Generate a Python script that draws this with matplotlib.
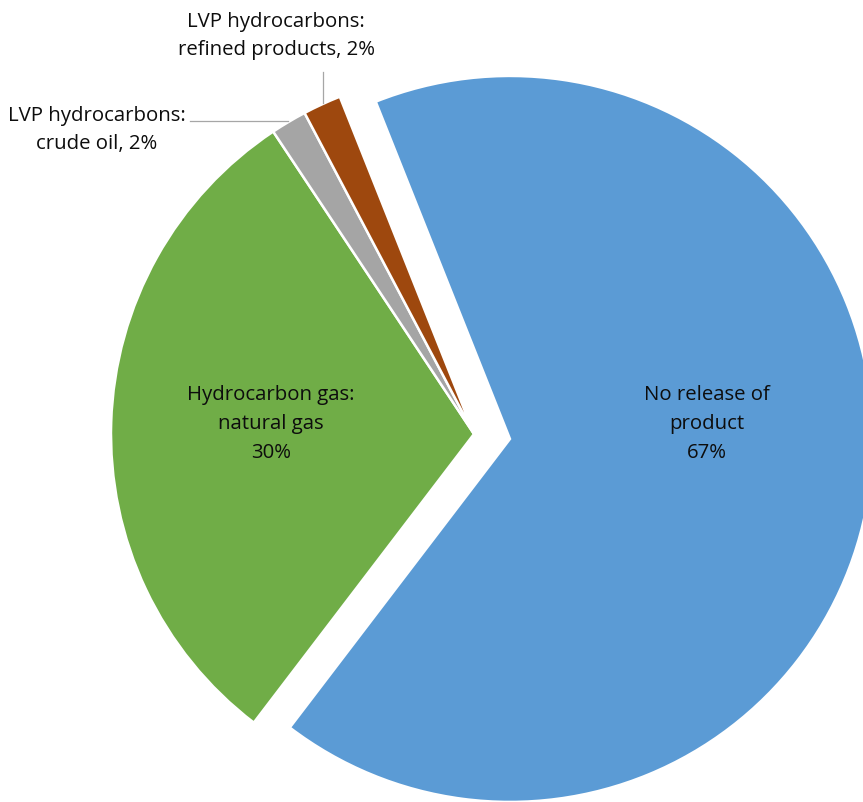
import matplotlib
matplotlib.use('Agg')
import matplotlib.pyplot as plt

labels = ['No release of\nproduct\n67%', 'Hydrocarbon gas:\nnatural gas\n30%',
          'LVP hydrocarbons:\ncrude oil, 2%', 'LVP hydrocarbons:\nrefined products, 2%']
values = [66.4, 30.3, 1.6, 1.7]
colors = ['#5B9BD5', '#70AD47', '#A5A5A5', '#9E480E']
explode = [0.1, 0, 0, 0]

plt.rcParams['font.family'] = ['Open Sans', 'DejaVu Sans']

W, H = 863, 802
cx, cy, R = 474, 434, 363

def p2d(px, py):
    return (px - cx) / R, (cy - py) / R

fig = plt.figure(figsize=(W / 100, H / 100), dpi=100)
ax = fig.add_axes([0, 0, 1, 1])
ax.pie(values, colors=colors, explode=explode, startangle=111.7, counterclock=False,
       radius=1, wedgeprops=dict(edgecolor='white', linewidth=1.8))
ax.set_xlim(-cx / R, (W - cx) / R)
ax.set_ylim(-(H - cy) / R, cy / R)
ax.set_aspect('equal')
ax.axis('off')

fs = 14.7
pos = [(707, 424), (271, 424), (97, 130), (276, 36)]
for lab, (px, py) in zip(labels, pos):
    x, y = p2d(px, py)
    ax.text(x, y, lab, ha='center', va='center', fontsize=fs, color='#0d0d0d',
            linespacing=1.6)

# leader lines
x1, y1 = p2d(190, 121)
x2, y2 = p2d(288, 121)
ax.plot([x1, x2], [y1, y2], color='#A6A6A6', lw=0.9)
x1, y1 = p2d(323, 72)
x2, y2 = p2d(323, 103)
ax.plot([x1, x2], [y1, y2], color='#A6A6A6', lw=0.9)

fig.savefig('out.png', dpi=100)
